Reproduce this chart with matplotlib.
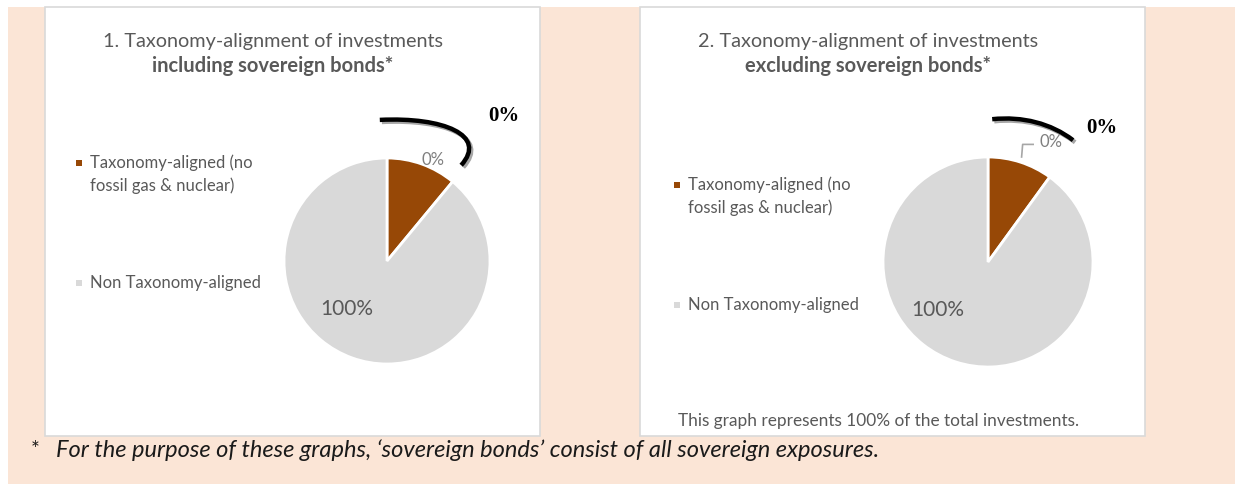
import numpy as np
import matplotlib
matplotlib.use("Agg")
import matplotlib.pyplot as plt
from matplotlib.patches import Rectangle, PathPatch
from matplotlib.path import Path
import matplotlib.patheffects as pe

# data
categories = ["Taxonomy-aligned (no\nfossil gas & nuclear)", "Non Taxonomy-aligned"]
incl_values = [11, 89]
excl_values = [10, 90]
value_labels = ["0%", "100%"]
highlight_label = "0%"
titles = [("1. Taxonomy-alignment of investments", "including sovereign bonds*"),
          ("2. Taxonomy-alignment of investments", "excluding sovereign bonds*")]
note = "This graph represents 100% of the total investments."
footnote = "For the purpose of these graphs, \u2018sovereign bonds\u2019 consist of all sovereign exposures."

colors = ["#974806", "#D9D9D9"]
beige = "#FBE5D6"
txt = "#595959"
FONT = "Lato"

W, H = 1235, 484
fig = plt.figure(figsize=(W / 100, H / 100), dpi=100)


def fx(x):
    return x / W


def fy(y):
    return 1 - y / H


# backgrounds
fig.patches.append(Rectangle((fx(8), 0), 1 - fx(8), fy(7), transform=fig.transFigure,
                             facecolor=beige, edgecolor="none", zorder=0))
for x0, x1 in [(45, 540), (640, 1145)]:
    fig.patches.append(Rectangle((fx(x0), fy(436)), (x1 - x0) / W, (436 - 7) / H,
                                 transform=fig.transFigure, facecolor="white",
                                 edgecolor="#D9D9D9", linewidth=1.2, zorder=1))

panels = [
    dict(values=incl_values, cx=387, cy=261, r=103, tx=273, lx=79, ly=[163, 283],
         lab0=(0.45, 0.98), lab1=(-0.39, -0.47), bold=(1.13, 1.41),
         arc=[(-0.07, 1.37), (0.55, 1.40), (0.98, 1.22), (0.72, 0.93)], leader=None),
    dict(values=excl_values, cx=988, cy=262, r=105, tx=868, lx=677, ly=[185, 305],
         lab0=(0.60, 1.14), lab1=(-0.48, -0.46), bold=(1.08, 1.28),
         arc=[(0.04, 1.36), (0.33, 1.39), (0.60, 1.32), (0.81, 1.16)],
         leader=[(0.43, 1.12), (0.33, 1.12), (0.32, 1.0)]),
]

for i, p in enumerate(panels):
    s = 1.6 * p["r"]
    ax = fig.add_axes([fx(p["cx"] - s), fy(p["cy"] + s), 2 * s / W, 2 * s / H], zorder=3)
    ax.pie(p["values"], colors=colors, startangle=90, counterclock=False,
           wedgeprops=dict(edgecolor="white", linewidth=2))
    ax.set_xlim(-1.6, 1.6)
    ax.set_ylim(-1.6, 1.6)
    ax.set_aspect("equal")
    ax.axis("off")

    ax.text(*p["lab0"], value_labels[0], ha="center", va="center", color="#7F7F7F",
            fontsize=12, family=FONT)
    ax.text(*p["lab1"], value_labels[1], ha="center", va="center", color=txt,
            fontsize=15, family=FONT)
    if p["leader"]:
        lx_, ly_ = zip(*p["leader"])
        ax.plot(lx_, ly_, color="#A6A6A6", lw=1.2, clip_on=False)

    # hand-drawn style arc
    path = Path(p["arc"], [Path.MOVETO, Path.CURVE4, Path.CURVE4, Path.CURVE4])
    ax.add_patch(PathPatch(path, facecolor="none", edgecolor="black", lw=3.2,
                           capstyle="butt", clip_on=False,
                           path_effects=[pe.SimpleLineShadow(offset=(1.5, -1.5), alpha=0.35,
                                                             shadow_color="black"),
                                         pe.Normal()]))
    ax.text(*p["bold"], highlight_label, ha="center", va="center", fontsize=15,
            fontweight="bold", family="Liberation Serif", color="black")

    # titles
    fig.text(fx(p["tx"]), fy(41), titles[i][0], ha="center", va="center",
             fontsize=14.3, color=txt, family=FONT)
    fig.text(fx(p["tx"]), fy(66), titles[i][1], ha="center", va="center",
             fontsize=14.5, color=txt, family=FONT, fontweight="bold")

    # legend
    for j, cat in enumerate(categories):
        yy = p["ly"][j]
        fig.patches.append(Rectangle((fx(p["lx"] - 3), fy(yy + 3)), 6 / W, 6 / H,
                                     transform=fig.transFigure, facecolor=colors[j],
                                     edgecolor="none", zorder=2))
        for k, line in enumerate(cat.split("\n")):
            fig.text(fx(p["lx"] + 11), fy(yy + 23 * k), line, ha="left", va="center",
                     fontsize=12, color=txt, family=FONT)

fig.text(fx(678), fy(421), note, ha="left", va="center", fontsize=12.4, color=txt, family=FONT)
fig.text(fx(35), fy(450), "*", ha="center", va="center", fontsize=15, color="#1A1A1A", family=FONT)
fig.text(fx(56), fy(450), footnote, ha="left", va="center", fontsize=17,
         color="#1A1A1A", family=FONT, style="italic")

fig.savefig("out.png", dpi=100)
